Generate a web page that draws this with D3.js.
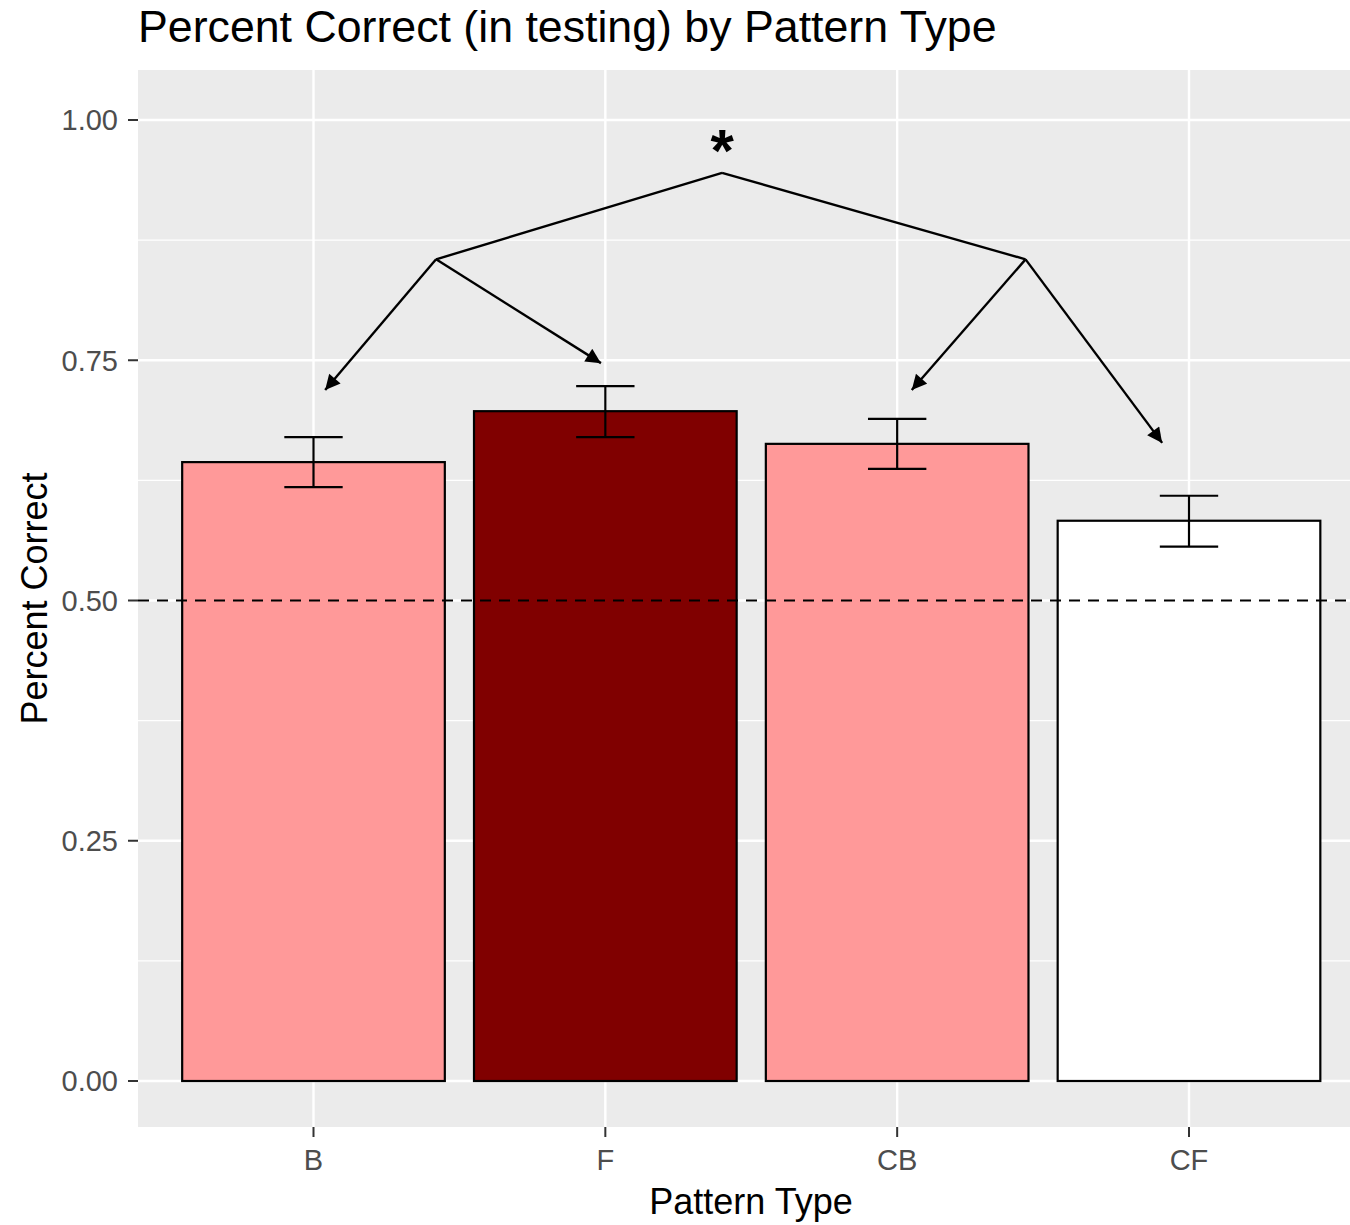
<!DOCTYPE html>
<html lang="en">
<head>
    <meta charset="UTF-8">
    <title>Percent Correct (in testing) by Pattern Type</title>
    <script src="https://d3js.org/d3.v7.min.js"></script>
    <style>
        body { margin: 0; background: #fff; font-family: "Liberation Sans", Arial, sans-serif; }
        svg { display: block; }
    </style>
</head>
<body>
    <svg width="1350" height="1225"></svg>

    <script>
        // data
        const patterns = ["B", "F", "CB", "CF"];
        const percentCorrect = [0.644, 0.697, 0.663, 0.583];
        const errLow = [0.618, 0.670, 0.637, 0.556];
        const errHigh = [0.670, 0.723, 0.689, 0.609];
        const barColors = ["#FF9999", "#800000", "#FF9999", "#FFFFFF"];
        const yTicks = [0, 0.25, 0.5, 0.75, 1.0];
        const yMinor = [0.125, 0.375, 0.625, 0.875];
        const chanceLevel = 0.5;

        // annotation tree (x in category units, 1 = B)
        const starPos = { x: 2.4, y: 0.947 };
        const treeTop = { x: 2.4, y: 0.945 };
        const treeNodes = [{ x: 1.42, y: 0.855 }, { x: 3.44, y: 0.855 }];
        const arrowTips = [
            [{ x: 1.04, y: 0.719 }, { x: 1.985, y: 0.747 }],
            [{ x: 3.05, y: 0.719 }, { x: 3.908, y: 0.664 }]
        ];

        const svg = d3.select("svg");
        const panel = { left: 138, right: 1364, top: 70, bottom: 1127 };

        const x = d3.scaleLinear().domain([1, 4]).range([313.5, 1189]);
        const y = d3.scaleLinear().domain([0, 1]).range([1081, 120]);
        const unit = x(2) - x(1);

        const defs = svg.append("defs");
        defs.append("clipPath").attr("id", "panelClip")
            .append("rect")
            .attr("x", panel.left).attr("y", panel.top)
            .attr("width", 1350 - panel.left).attr("height", panel.bottom - panel.top);

        defs.append("marker")
            .attr("id", "arrowHead")
            .attr("viewBox", "0 0 10 10")
            .attr("refX", 10).attr("refY", 5)
            .attr("markerUnits", "userSpaceOnUse")
            .attr("markerWidth", 17).attr("markerHeight", 15)
            .attr("orient", "auto")
            .append("path")
            .attr("d", "M0,0 L10,5 L0,10 Z")
            .attr("fill", "#000");

        const g = svg.append("g").attr("clip-path", "url(#panelClip)");

        g.append("rect")
            .attr("x", panel.left).attr("y", panel.top)
            .attr("width", panel.right - panel.left).attr("height", panel.bottom - panel.top)
            .attr("fill", "#EBEBEB");

        // grid
        g.selectAll(".minor").data(yMinor).enter().append("line")
            .attr("x1", panel.left).attr("x2", panel.right)
            .attr("y1", d => y(d)).attr("y2", d => y(d))
            .attr("stroke", "#fff").attr("stroke-width", 1.2);

        g.selectAll(".major").data(yTicks).enter().append("line")
            .attr("x1", panel.left).attr("x2", panel.right)
            .attr("y1", d => y(d)).attr("y2", d => y(d))
            .attr("stroke", "#fff").attr("stroke-width", 2.4);

        g.selectAll(".vgrid").data(patterns).enter().append("line")
            .attr("x1", (d, i) => x(i + 1)).attr("x2", (d, i) => x(i + 1))
            .attr("y1", panel.top).attr("y2", panel.bottom)
            .attr("stroke", "#fff").attr("stroke-width", 2.4);

        // bars
        g.selectAll(".bar").data(percentCorrect).enter().append("rect")
            .attr("x", (d, i) => x(i + 1) - 0.45 * unit)
            .attr("width", 0.9 * unit)
            .attr("y", d => y(d))
            .attr("height", d => y(0) - y(d))
            .attr("fill", (d, i) => barColors[i])
            .attr("stroke", "#000").attr("stroke-width", 2.2);

        // error bars
        const eb = g.selectAll(".err").data(percentCorrect).enter().append("g");
        eb.append("line")
            .attr("x1", (d, i) => x(i + 1)).attr("x2", (d, i) => x(i + 1))
            .attr("y1", (d, i) => y(errLow[i])).attr("y2", (d, i) => y(errHigh[i]));
        eb.append("line")
            .attr("x1", (d, i) => x(i + 1) - 0.1 * unit).attr("x2", (d, i) => x(i + 1) + 0.1 * unit)
            .attr("y1", (d, i) => y(errLow[i])).attr("y2", (d, i) => y(errLow[i]));
        eb.append("line")
            .attr("x1", (d, i) => x(i + 1) - 0.1 * unit).attr("x2", (d, i) => x(i + 1) + 0.1 * unit)
            .attr("y1", (d, i) => y(errHigh[i])).attr("y2", (d, i) => y(errHigh[i]));
        eb.selectAll("line").attr("stroke", "#000").attr("stroke-width", 2.2);

        // chance line
        g.append("line")
            .attr("x1", panel.left).attr("x2", panel.right)
            .attr("y1", y(chanceLevel)).attr("y2", y(chanceLevel))
            .attr("stroke", "#000").attr("stroke-width", 2)
            .attr("stroke-dasharray", "11,8");

        // annotation tree
        treeNodes.forEach((n, k) => {
            g.append("line")
                .attr("x1", x(treeTop.x)).attr("y1", y(treeTop.y))
                .attr("x2", x(n.x)).attr("y2", y(n.y))
                .attr("stroke", "#000").attr("stroke-width", 2.4);
            arrowTips[k].forEach(t => {
                g.append("line")
                    .attr("x1", x(n.x)).attr("y1", y(n.y))
                    .attr("x2", x(t.x)).attr("y2", y(t.y))
                    .attr("stroke", "#000").attr("stroke-width", 2.4)
                    .attr("marker-end", "url(#arrowHead)");
            });
        });

        g.append("text")
            .attr("x", x(starPos.x)).attr("y", y(starPos.y))
            .attr("text-anchor", "middle")
            .style("font-size", "60px").style("font-weight", "bold")
            .text("*");

        // axes
        const yAxis = svg.append("g");
        yAxis.selectAll("line").data(yTicks).enter().append("line")
            .attr("x1", panel.left - 10).attr("x2", panel.left)
            .attr("y1", d => y(d)).attr("y2", d => y(d))
            .attr("stroke", "#333").attr("stroke-width", 2);
        yAxis.selectAll("text").data(yTicks).enter().append("text")
            .attr("x", panel.left - 20).attr("y", d => y(d))
            .attr("dy", "0.36em").attr("text-anchor", "end")
            .style("font-size", "29px").attr("fill", "#4D4D4D")
            .text(d => d3.format(".2f")(d));

        const xAxis = svg.append("g");
        xAxis.selectAll("line").data(patterns).enter().append("line")
            .attr("x1", (d, i) => x(i + 1)).attr("x2", (d, i) => x(i + 1))
            .attr("y1", panel.bottom).attr("y2", panel.bottom + 10)
            .attr("stroke", "#333").attr("stroke-width", 2);
        xAxis.selectAll("text").data(patterns).enter().append("text")
            .attr("x", (d, i) => x(i + 1)).attr("y", panel.bottom + 43)
            .attr("text-anchor", "middle")
            .style("font-size", "29px").attr("fill", "#4D4D4D")
            .text(d => d);

        svg.append("text")
            .attr("x", (panel.left + 1364) / 2).attr("y", 1214)
            .attr("text-anchor", "middle")
            .style("font-size", "36px").attr("fill", "#000")
            .text("Pattern Type");

        svg.append("text")
            .attr("transform", `translate(47, ${(panel.top + panel.bottom) / 2}) rotate(-90)`)
            .attr("text-anchor", "middle")
            .style("font-size", "36px").attr("fill", "#000")
            .text("Percent Correct");

        svg.append("text")
            .attr("x", panel.left).attr("y", 42)
            .style("font-size", "44.7px").attr("fill", "#000")
            .text("Percent Correct (in testing) by Pattern Type");
    </script>
</body>
</html>
